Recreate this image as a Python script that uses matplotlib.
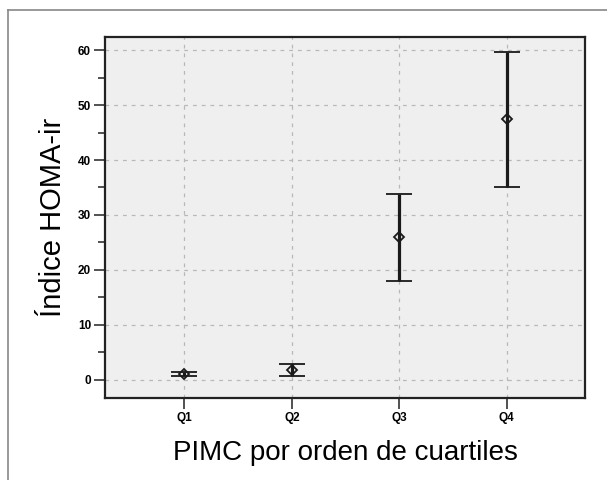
import matplotlib
matplotlib.use("Agg")
import matplotlib.pyplot as plt
from matplotlib.lines import Line2D
from matplotlib.ticker import MultipleLocator

# data (mean with 95% CI)
categories = ['Q1', 'Q2', 'Q3', 'Q4']
means = [1.0, 1.8, 25.9, 47.4]
ci_low = [0.7, 0.6, 17.9, 35.1]
ci_high = [1.4, 2.9, 33.9, 59.7]

narrow = ['Liberation Sans Narrow', 'Liberation Sans', 'DejaVu Sans']

fig = plt.figure(figsize=(6.07, 4.80), dpi=100)
ax = fig.add_axes([0.173, 0.171, 0.791, 0.752])
ax.set_facecolor('#efefef')

x = list(range(1, len(categories) + 1))
err_lo = [m - l for m, l in zip(means, ci_low)]
err_hi = [h - m for m, h in zip(means, ci_high)]
ax.errorbar(x, means, yerr=[err_lo, err_hi], fmt='D', mfc='none', mec='#1a1a1a',
            ms=5, mew=1.3, ecolor='#1a1a1a', elinewidth=2.3, capsize=9.5, capthick=2.3,
            zorder=3)

ax.set_xlim(0.26, 4.73)
ax.set_ylim(-3.3, 62.4)
ax.set_xticks(x)
ax.set_xticklabels(categories)
ax.yaxis.set_major_locator(MultipleLocator(10))
ax.yaxis.set_minor_locator(MultipleLocator(5))
ax.grid(True, which='major', color='#b8b8b8', linestyle=(0, (3, 4)), linewidth=0.9)
ax.set_axisbelow(True)

for lab in ax.get_xticklabels() + ax.get_yticklabels():
    lab.set_family(narrow)
    lab.set_fontweight('bold')
    lab.set_fontsize(8.5)
ax.tick_params(axis='both', which='major', length=8, width=1.2, color='#333333', pad=2)
ax.tick_params(axis='y', which='minor', length=5, width=1.2, color='#333333')
for s in ax.spines.values():
    s.set_linewidth(1.6)
    s.set_color('#222222')

ax.set_ylabel('Índice HOMA-ir', family=narrow, fontsize=21, labelpad=8)
ax.set_xlabel('PIMC por orden de cuartiles', family=narrow, fontsize=20, labelpad=12)

# outer frame lines of the original figure
fig.add_artist(Line2D([8 / 607, 1], [1 - 10 / 480, 1 - 10 / 480], color='#888888', lw=1.2))
fig.add_artist(Line2D([8 / 607, 8 / 607], [0, 1 - 10 / 480], color='#888888', lw=1.2))

fig.savefig('out.png', dpi=100)
